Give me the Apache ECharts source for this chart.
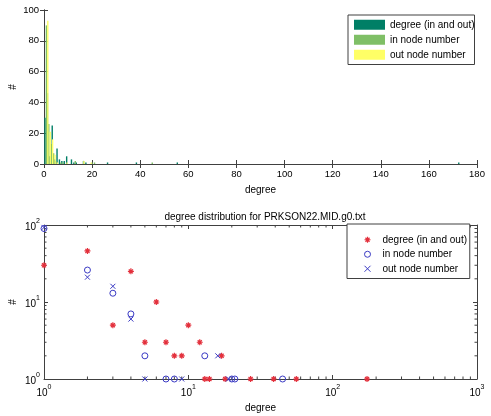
<!DOCTYPE html>
<html><head><meta charset="utf-8">
<script src="https://cdn.jsdelivr.net/npm/echarts@6/dist/echarts.min.js"></script>
<style>html,body{margin:0;padding:0;background:#fff}#c{width:491px;height:416px}</style>
</head><body><div id="c"></div>
<script>
// degree distribution data
const degreeX = [1, 2, 3, 4, 5, 6, 7, 8, 9, 10, 12, 13, 14, 17, 18, 27, 39, 56, 173];
const degreeN = [30, 46, 5, 25, 3, 10, 3, 2, 2, 5, 3, 1, 1, 2, 1, 1, 1, 1, 1];
const inX = [1, 2, 3, 4, 5, 7, 8, 13, 20, 21, 45];
const inN = [90, 26, 13, 7, 2, 1, 1, 2, 1, 1, 1];
const outX = [1, 2, 3, 4, 5, 9, 16, 19];
const outN = [93, 21, 16, 6, 1, 1, 2, 1];
const seriesNames = ['degree (in and out)', 'in node number', 'out node number'];
const titleText = 'degree distribution for PRKSON22.MID.g0.txt';
const xMinorTicks = [2,3,4,5,6,7,8,9,20,30,40,50,60,70,80,90,200,300,400,500,600,700,800,900];
const yMinorTicks = [2,3,4,5,6,7,8,9,20,30,40,50,60,70,80,90];

const FONT = '"Liberation Sans", Arial, sans-serif';
const AX = '#404040';
const barColors = ['#007f66', '#7fbf66', '#ffff66'];
const red = '#e3303c', blue = '#3a3ac4';

function pairs(xs, ys) { return xs.map((x, i) => [x, ys[i]]); }
function sup(v) { return '{b|10}{s|' + Math.round(Math.log10(v)) + '}'; }
const supRich = {
  b: { fontSize: 10, fontFamily: FONT, color: '#000', lineHeight: 14, verticalAlign: 'bottom' },
  s: { fontSize: 7, fontFamily: FONT, color: '#000', lineHeight: 14, verticalAlign: 'top' }
};
const lineStyle = { color: AX, width: 1 };
const tickIn = (len) => ({ show: true, inside: true, length: len, lineStyle: { color: AX } });

const grids = [
  { left: 44, top: 10, width: 433, height: 154, outerBoundsMode: 'none', containLabel: false },
  { left: 44, top: 225, width: 433, height: 154, outerBoundsMode: 'none', containLabel: false }
];
const nameStyle = { fontSize: 10, fontFamily: FONT, color: '#000' };

const xAxes = [
  { type: 'value', gridIndex: 0, min: 0, max: 180, interval: 20, position: 'bottom',
    axisLine: { lineStyle }, axisTick: tickIn(4), splitLine: { show: false },
    axisLabel: { fontSize: 9.5, fontFamily: FONT, color: '#000', margin: 5 },
    name: 'degree', nameLocation: 'middle', nameGap: 21, nameMoveOverlap: false, nameTextStyle: nameStyle },
  { type: 'value', gridIndex: 0, min: 0, max: 180, interval: 20, position: 'top',
    axisLine: { show: true, lineStyle }, axisTick: tickIn(4), axisLabel: { show: false }, splitLine: { show: false } },
  { type: 'log', logBase: 10, gridIndex: 1, min: 1, max: 1000, position: 'bottom',
    axisLine: { lineStyle }, axisTick: tickIn(4), splitLine: { show: false }, minorTick: { show: false },
    axisLabel: { formatter: sup, rich: supRich, margin: 5 },
    name: 'degree', nameLocation: 'middle', nameGap: 24, nameMoveOverlap: false, nameTextStyle: nameStyle },
  { type: 'log', logBase: 10, gridIndex: 1, min: 1, max: 1000, position: 'top',
    axisLine: { show: true, lineStyle }, axisTick: tickIn(4), axisLabel: { show: false }, splitLine: { show: false } }
];
const yAxes = [
  { type: 'value', gridIndex: 0, min: 0, max: 100, interval: 20, position: 'left',
    axisLine: { show: true, lineStyle }, axisTick: tickIn(4), splitLine: { show: false },
    axisLabel: { fontSize: 9.5, fontFamily: FONT, color: '#000', margin: 5 },
    name: '#', nameLocation: 'middle', nameGap: 26, nameRotate: 90, nameMoveOverlap: false, nameTextStyle: nameStyle },
  { type: 'value', gridIndex: 0, min: 0, max: 100, interval: 20, position: 'right',
    axisLine: { show: true, lineStyle }, axisTick: tickIn(4), axisLabel: { show: false }, splitLine: { show: false } },
  { type: 'log', logBase: 10, gridIndex: 1, min: 1, max: 100, position: 'left',
    axisLine: { show: true, lineStyle }, axisTick: tickIn(4), splitLine: { show: false },
    axisLabel: { formatter: sup, rich: supRich, margin: 4 },
    name: '#', nameLocation: 'middle', nameGap: 26, nameRotate: 90, nameMoveOverlap: false, nameTextStyle: nameStyle },
  { type: 'log', logBase: 10, gridIndex: 1, min: 1, max: 100, position: 'right',
    axisLine: { show: true, lineStyle }, axisTick: tickIn(4), axisLabel: { show: false }, splitLine: { show: false } }
];

const barData = [pairs(degreeX, degreeN), pairs(inX, inN), pairs(outX, outN)];
const barSeries = barData.map((d, i) => ({
  type: 'bar', name: seriesNames[i], xAxisIndex: 0, yAxisIndex: 0, data: d,
  barWidth: 1.4, barGap: '0%', itemStyle: { color: barColors[i] }, silent: true, animation: false
}));

const starPath = 'path://M0,5L10,5M5,0L5,10M1.6,1.6L8.4,8.4M8.4,1.6L1.6,8.4';
const xPath = 'path://M0,0L10,10M10,0L0,10';
const markerStyles = [
  { symbol: starPath, size: 6, itemStyle: { color: 'none', borderColor: red, borderWidth: 1.2, opacity: 1 } },
  { symbol: 'circle', size: 6, itemStyle: { color: 'none', borderColor: blue, borderWidth: 1, opacity: 1 } },
  { symbol: xPath, size: 5, itemStyle: { color: 'none', borderColor: blue, borderWidth: 1, opacity: 1 } }
];
const scatterData = [pairs(degreeX, degreeN), pairs(inX, inN), pairs(outX, outN)];
const scatterSeries = scatterData.map((d, i) => ({
  type: 'scatter', name: seriesNames[i] + ' ', xAxisIndex: 2, yAxisIndex: 2, data: d,
  symbol: markerStyles[i].symbol, symbolSize: markerStyles[i].size, itemStyle: markerStyles[i].itemStyle,
  silent: true, animation: false
}));

function minorRender(horizontal) {
  return function (params, api) {
    const v = api.value(horizontal ? 0 : 1);
    let a, b;
    if (horizontal) {
      a = api.coord([v, 1]); b = api.coord([v, 100]);
      return { type: 'group', children: [
        { type: 'line', shape: { x1: a[0], y1: a[1], x2: a[0], y2: a[1] - 2.5 }, style: { stroke: AX, lineWidth: 1 } },
        { type: 'line', shape: { x1: b[0], y1: b[1], x2: b[0], y2: b[1] + 2.5 }, style: { stroke: AX, lineWidth: 1 } }
      ] };
    } else {
      a = api.coord([1, v]); b = api.coord([1000, v]);
      return { type: 'group', children: [
        { type: 'line', shape: { x1: a[0], y1: a[1], x2: a[0] + 2.5, y2: a[1] }, style: { stroke: AX, lineWidth: 1 } },
        { type: 'line', shape: { x1: b[0], y1: b[1], x2: b[0] - 2.5, y2: b[1] }, style: { stroke: AX, lineWidth: 1 } }
      ] };
    }
  };
}
const minorSeries = [
  { type: 'custom', xAxisIndex: 2, yAxisIndex: 2, data: xMinorTicks.map(v => [v, 1]), renderItem: minorRender(true), clip: false, silent: true, z: 1 },
  { type: 'custom', xAxisIndex: 2, yAxisIndex: 2, data: yMinorTicks.map(v => [1, v]), renderItem: minorRender(false), clip: false, silent: true, z: 1 }
];

const chart = echarts.init(document.getElementById('c'), null, { renderer: 'canvas' });
chart.setOption({
  animation: false,
  backgroundColor: '#fff',
  textStyle: { fontFamily: FONT },
  title: { text: titleText, left: 260, top: 207, textAlign: 'center',
    textStyle: { fontSize: 10, fontWeight: 'normal', fontFamily: FONT, color: '#000' } },
  grid: grids,
  xAxis: xAxes,
  yAxis: yAxes,
  legend: [
    { data: seriesNames, orient: 'vertical', left: 348, top: 15, icon: 'rect',
      itemWidth: 31, itemHeight: 10, itemGap: 3.5, padding: [4, 0, 4, 6], selectedMode: false,
      borderColor: '#404040', borderWidth: 1, backgroundColor: '#fff',
      textStyle: { fontSize: 10, fontFamily: FONT, color: '#000', lineHeight: 11.5 } },
    { data: seriesNames.map((n, i) => ({ name: n + ' ', icon: markerStyles[i].symbol, itemStyle: markerStyles[i].itemStyle })),
      orient: 'vertical', left: 347, top: 224,
      itemWidth: 20, itemHeight: 6, itemGap: 3, padding: [10, 0, 4, 15], selectedMode: false,
      borderColor: '#404040', borderWidth: 1, backgroundColor: '#fff',
      textStyle: { fontSize: 10, fontFamily: FONT, color: '#000', lineHeight: 11.5 } }
  ],
  series: barSeries.concat(scatterSeries, minorSeries)
});
</script>
</body></html>
